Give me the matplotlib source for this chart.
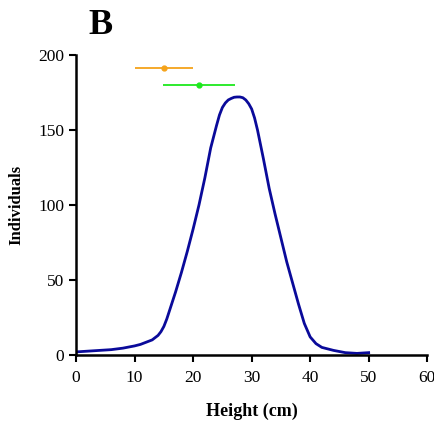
import numpy as np
import matplotlib.pyplot as plt

height = [0, 2, 4, 6, 8, 10, 11, 12, 13, 14, 14.5, 15, 15.5, 16, 17, 18, 19, 20, 21, 22,
          23, 24, 24.5, 25, 25.5, 26, 26.5, 27, 27.5, 28, 28.5, 29, 29.5, 30, 30.5, 31,
          32, 33, 34, 35, 36, 37, 38, 39, 40, 41, 42, 43, 44, 46, 48, 50]
individuals = [2, 2.5, 3, 3.5, 4.5, 6, 7, 8.5, 10, 13, 15.5, 19, 24, 30, 42, 55, 69, 84,
               100, 118, 138, 153, 160, 165, 168, 170, 171, 171.8, 172, 172, 171.5, 170,
               167.5, 164, 158, 150, 131, 111, 94, 78, 62, 48, 34, 21, 12, 7.5, 5, 4, 3,
               1.5, 1, 1.5]

# mean +/- range markers
bar_means = [15, 21]
bar_err = [5, 6.1]
bar_y = [191, 180]
bar_colors = ['#f5a31a', '#1ee81e']

plt.rcParams['font.family'] = ['Liberation Serif', 'DejaVu Serif']

fig = plt.figure(figsize=(4.35, 4.23), dpi=100)
ax = fig.add_axes([0.175, 0.161, 0.807, 0.709])

ax.plot(height, individuals, color='#0a0a9a', lw=2, solid_joinstyle='round')
for m, e, y, c in zip(bar_means, bar_err, bar_y, bar_colors):
    ax.errorbar(m, y, xerr=e, fmt='o', color=c, ms=3.5, lw=1.3, capsize=0)

ax.set_xlim(0, 60)
ax.set_ylim(0, 200)
ax.set_xticks(range(0, 61, 10))
ax.set_yticks(range(0, 201, 50))
ax.spines['top'].set_visible(False)
ax.spines['right'].set_visible(False)
for s in ['left', 'bottom']:
    ax.spines[s].set_linewidth(1.8)
ax.tick_params(width=1.5, length=5, labelsize=12.5)
ax.tick_params(axis='x', pad=6)
ax.set_xlabel('Height (cm)', fontweight='bold', fontsize=13, labelpad=12)
ax.set_ylabel('Individuals', fontweight='bold', fontsize=12, labelpad=10)

fig.text(0.23, 0.94, 'B', fontsize=26, fontweight='bold', ha='center', va='center')

plt.savefig('out.png', dpi=100)
